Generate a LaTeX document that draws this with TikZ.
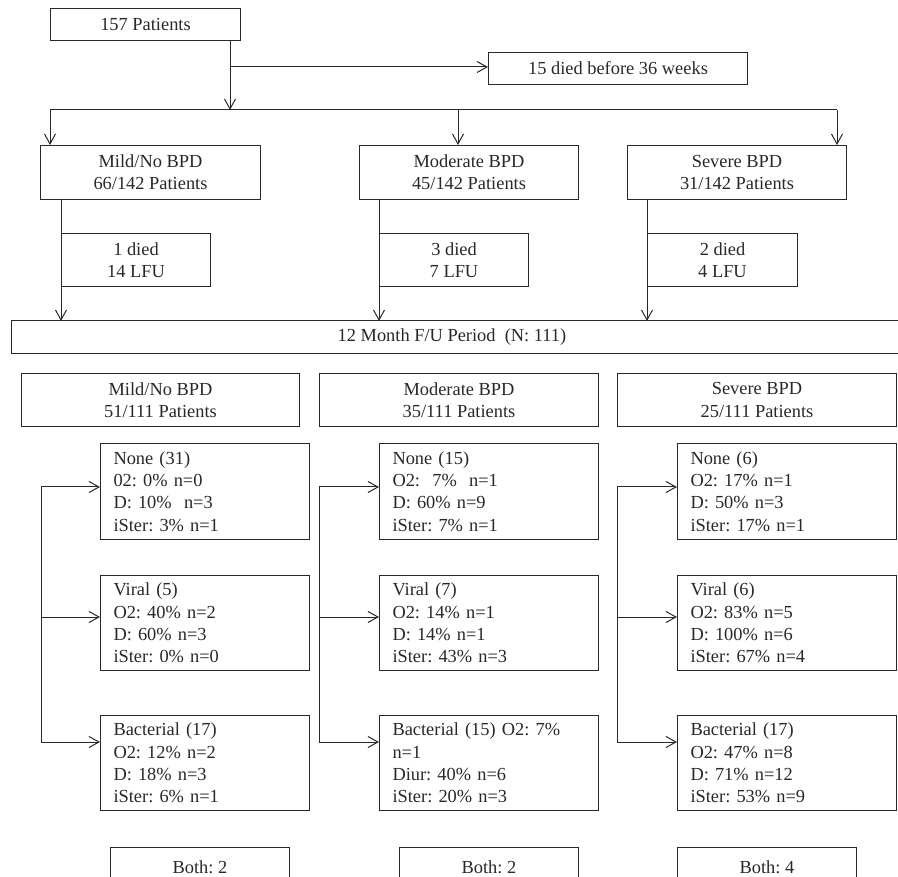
\documentclass[tikz,border=0pt]{standalone}
\usepackage{fontspec}
\setmainfont{Liberation Serif}
\usetikzlibrary{arrows.meta,calc}
\definecolor{lc}{RGB}{40,40,40}
\newcommand\fs{\fontsize{18.4}{22.2}\selectfont\frenchspacing}
\tikzset{
  box/.style={draw=lc, line width=1pt, inner sep=0pt, font=\fs, text=lc, align=center, anchor=north west},
  lbox/.style={box, align=left, inner xsep=13pt, inner ysep=0pt},
  conn/.style={draw=lc, line width=1pt},
  arr/.style={conn, -{Straight Barb[length=10pt,width=11pt,line width=1pt]}}
}
\begin{document}
\frenchspacing
\begin{tikzpicture}[x=1pt,y=-1pt]
\useasboundingbox (0,0) rectangle (898,877);
\clip (0,0) rectangle (898,877);
% top
\node[box, minimum width=190, minimum height=32] (p157) at (50,8) {157 Patients};
\node[box, minimum width=259, minimum height=32] (died15) at (488,52) {15 died before 36 weeks};
\node[box, minimum width=220, minimum height=54] (mild1) at (40,145) {Mild/No BPD\\66/142 Patients};
\node[box, minimum width=219, minimum height=54] (mod1) at (359,145) {Moderate BPD\\45/142 Patients};
\node[box, minimum width=219, minimum height=54] (sev1) at (627,145) {Severe BPD\\31/142 Patients};
\node[box, minimum width=149, minimum height=53] (d1) at (61,233) {1 died\\14 LFU};
\node[box, minimum width=149, minimum height=53] (d3) at (379,233) {3 died\\7 LFU};
\node[box, minimum width=150, minimum height=53] (d2) at (647,233) {2 died\\4 LFU};
\node[box, draw=none, minimum width=881, minimum height=32] (fu) at (11,321) {12 Month F/U Period\ \ (N: 111)};
\draw[conn] ($(fu.north east)+(20,0)$) -- (fu.north west) -- (fu.south west) -- ($(fu.south east)+(20,0)$);
% second row
\node[box, minimum width=278, minimum height=53] (mild2) at (21,373) {Mild/No BPD\\51/111 Patients};
\node[box, minimum width=279, minimum height=53] (mod2) at (319,373) {Moderate BPD\\35/111 Patients};
\node[box, minimum width=279, minimum height=53] (sev2) at (617,373) {Severe BPD\\25/111 Patients};
% detail boxes
\node[lbox, text width=183, minimum height=96] (none1) at (100,443) {None (31)\\02: 0\% n=0\\D: 10\%\ \ n=3\\iSter: 3\% n=1};
\node[lbox, text width=183, minimum height=95] (viral1) at (100,575) {Viral (5)\\O2: 40\% n=2\\D: 60\% n=3\\iSter: 0\% n=0};
\node[lbox, text width=183, minimum height=95] (bact1) at (100,715) {Bacterial (17)\\O2: 12\% n=2\\D: 18\% n=3\\iSter: 6\% n=1};
\node[lbox, text width=193, minimum height=96] (none2) at (379,443) {None (15)\\O2:\ \ 7\%\ \ n=1\\D: 60\% n=9\\iSter: 7\% n=1};
\node[lbox, text width=193, minimum height=95] (viral2) at (379,575) {Viral (7)\\O2: 14\% n=1\\D: 14\% n=1\\iSter: 43\% n=3};
\node[lbox, text width=193, minimum height=95] (bact2) at (379,715) {Bacterial (15) O2: 7\%\\n=1\\Diur: 40\% n=6\\iSter: 20\% n=3};
\node[lbox, text width=193, minimum height=96] (none3) at (677,443) {None (6)\\O2: 17\% n=1\\D: 50\% n=3\\iSter: 17\% n=1};
\node[lbox, text width=193, minimum height=95] (viral3) at (677,575) {Viral (6)\\O2: 83\% n=5\\D: 100\% n=6\\iSter: 67\% n=4};
\node[lbox, text width=193, minimum height=95] (bact3) at (677,715) {Bacterial (17)\\O2: 47\% n=8\\D: 71\% n=12\\iSter: 53\% n=9};
% both boxes
\node[box, minimum width=179, minimum height=40] (both1) at (110,847) {Both: 2};
\node[box, minimum width=179, minimum height=40] (both2) at (399,847) {Both: 2};
\node[box, minimum width=179, minimum height=40] (both3) at (677,847) {Both: 4};
% top connectors
\coordinate (j1) at (230,67);
\coordinate (j2) at (230,110);
\coordinate (bl) at (50,110);
\coordinate (bm) at (458,110);
\coordinate (br) at (837,110);
\draw[arr] (p157.south -| j1) -- (j2);
\draw[arr] (j1) -- (died15.west |- j1);
\draw[conn] (bl) -- (br);
\draw[arr] (bl) -- (bl |- mild1.north);
\draw[arr] (bm) -- (bm |- mod1.north);
\draw[arr] (br) -- (br |- sev1.north);
\draw[arr] (mild1.south -| d1.west) -- (fu.north -| d1.west);
\draw[arr] (mod1.south -| d3.west) -- (fu.north -| d3.west);
\draw[arr] (sev1.south -| d2.west) -- (fu.north -| d2.west);
% bottom connectors
\foreach \c/\x in {1/41,2/319,3/617}{
  \coordinate (n\c) at (\x,487);
  \coordinate (v\c) at (\x,617);
  \coordinate (b\c) at (\x,742);
  \draw[conn] (n\c) -- (b\c);
  \draw[arr] (n\c) -- (n\c -| none\c.west);
  \draw[arr] (v\c) -- (v\c -| viral\c.west);
  \draw[arr] (b\c) -- (b\c -| bact\c.west);
}
\end{tikzpicture}
\end{document}
